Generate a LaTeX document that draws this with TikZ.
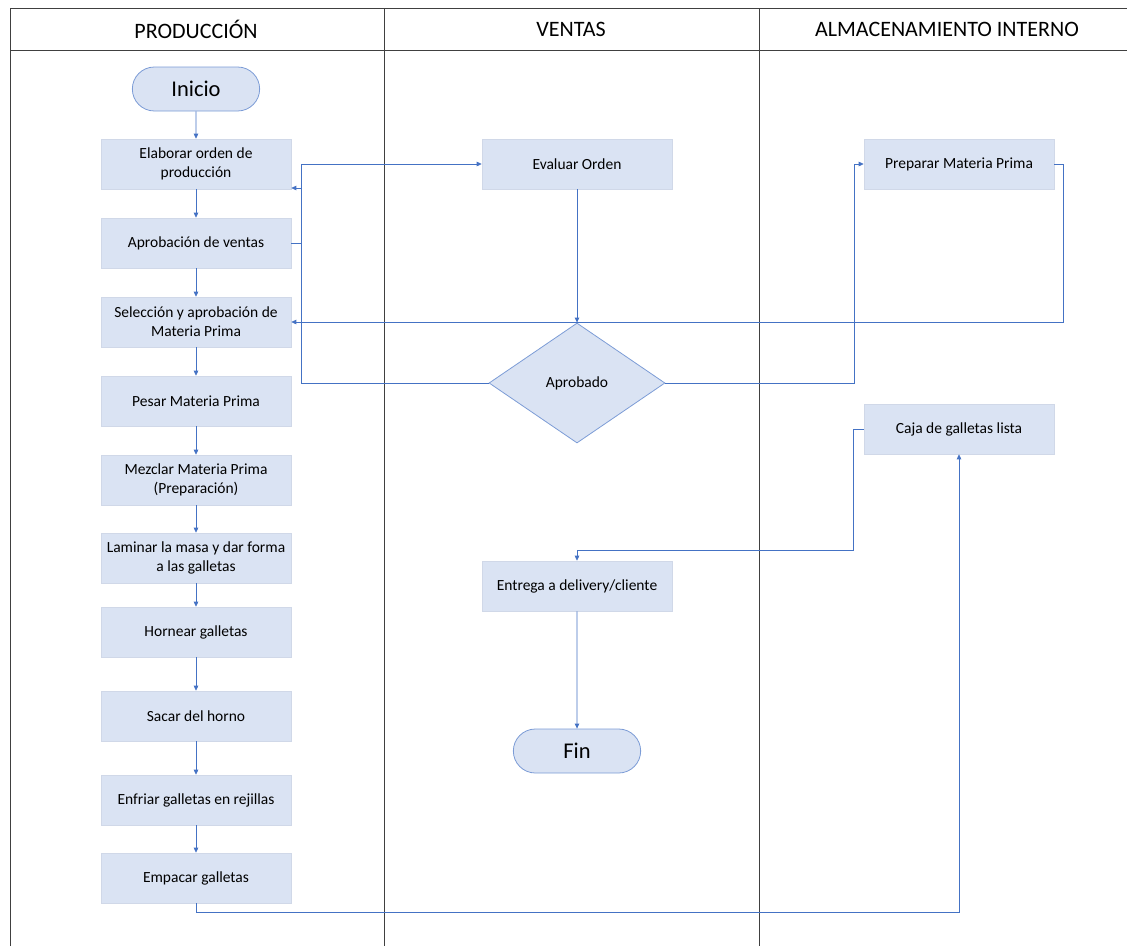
\documentclass[tikz,border=0pt]{standalone}
\usepackage{fontspec}
\setmainfont{Carlito}
\usetikzlibrary{shapes.geometric,shapes.misc,arrows.meta}
\definecolor{boxfill}{HTML}{DAE3F3}
\definecolor{boxline}{HTML}{D0D8E8}
\definecolor{conn}{HTML}{4472C4}
\definecolor{lane}{HTML}{404040}
\tikzset{
  proc/.style={rectangle,fill=boxfill,draw=boxline,line width=0.6pt,minimum width=190pt,minimum height=50pt,align=center,font=\fontsize{15.5}{19}\selectfont,inner sep=1pt},
  term/.style={rounded rectangle,fill=boxfill,draw=conn!70,line width=0.8pt,minimum width=134pt,minimum height=44pt,font=\fontsize{22.5}{26}\selectfont},
  dec/.style={diamond,fill=boxfill,draw=conn!70,line width=0.8pt,minimum width=176pt,minimum height=120pt,aspect=1.47,inner sep=0pt,font=\fontsize{15.5}{19}\selectfont},
  conn/.style={draw=conn,line width=0.8pt,-{Triangle[length=5pt,width=4.5pt]}},
  lane/.style={draw=lane,line width=0.7pt},
  hdr/.style={font=\fontsize{22}{26}\selectfont}
}
\begin{document}
\begin{tikzpicture}[x=1pt,y=-1pt]
\useasboundingbox (0,0) rectangle (1127,946);
% lanes
\draw[lane] (10,946) -- (10,8) -- (1127,8);
\draw[lane] (10,50) -- (1127,50);
\draw[lane] (384,8) -- (384,946);
\draw[lane] (759,8) -- (759,946);
\node[hdr] (h1) at (196,29) {PRODUCCIÓN};
\node[hdr] (h2) at (571,29) {VENTAS};
\node[hdr] (h3) at (947,29) {ALMACENAMIENTO INTERNO};
% production
\node[term] (ini) at (196,89) {Inicio};
\node[proc] (elab) at (196,164) {Elaborar orden de\\producción};
\node[proc] (aprv) at (196,243) {Aprobación de ventas};
\node[proc] (sel) at (196,322) {Selección y aprobación de\\Materia Prima};
\node[proc] (pes) at (196,401) {Pesar Materia Prima};
\node[proc] (mez) at (196,480) {Mezclar Materia Prima\\(Preparación)};
\node[proc] (lam) at (196,558) {Laminar la masa y dar forma\\a las galletas};
\node[proc] (hor) at (196,632) {Hornear galletas};
\node[proc] (sac) at (196,716) {Sacar del horno};
\node[proc] (enf) at (196,800) {Enfriar galletas en rejillas};
\node[proc] (emp) at (196,878) {Empacar galletas};
% ventas
\node[proc] (eval) at (577,164) {Evaluar Orden};
\node[dec] (apb) at (577,383) {Aprobado};
\node[proc] (ent) at (577,586) {Entrega a delivery/cliente};
\node[term] (fin) at (577,751) {Fin};
% almacenamiento
\node[proc] (prep) at (959,164) {Preparar Materia Prima};
\node[proc] (caja) at (959,429) {Caja de galletas lista};
% connectors
\draw[conn] (ini) -- (elab);
\draw[conn] (elab) -- (aprv);
\draw[conn] (aprv) -- (sel);
\draw[conn] (sel) -- (pes);
\draw[conn] (pes) -- (mez);
\draw[conn] (mez) -- (lam);
\draw[conn] (lam) -- (hor);
\draw[conn] (hor) -- (sac);
\draw[conn] (sac) -- (enf);
\draw[conn] (enf) -- (emp);
\draw[conn] (aprv.east) -- ++(10,0) |- (eval.west);
\draw[conn] (apb.west) -| (301,188) -- (elab.east |- 0,188);
\draw[conn] (eval) -- (apb);
\draw[conn] (prep.east) -- ++(9,0) |- (sel.east);
\draw[conn] (apb.east) -| (854,164) -- (prep.west);
\draw[conn] (caja.west) -- ++(-10,0) |- (577,550) -- (ent.north);
\draw[conn] (ent) -- (fin);
\draw[conn] (emp.south) -- ++(0,9) -| (caja.south);
\end{tikzpicture}
\end{document}
